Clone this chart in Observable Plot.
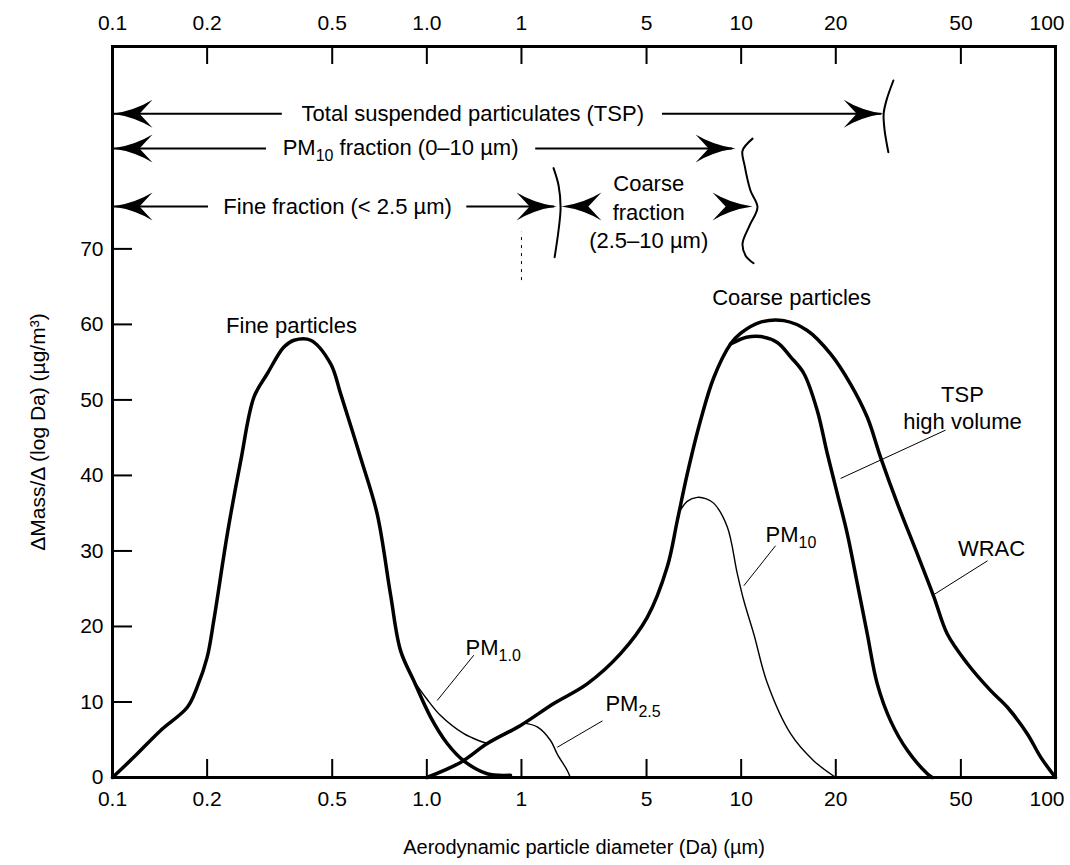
<!DOCTYPE html>
<html><head><meta charset="utf-8">
<script src="https://cdn.jsdelivr.net/npm/d3@7"></script>
<script src="https://cdn.jsdelivr.net/npm/@observablehq/plot@0.6"></script>
<style>body{margin:0;background:#fff;}</style>
</head><body><div id="chart"></div>
<script>
// ---- axes ----
const xTicks = [0.1, 0.2, 0.5, 1, 2, 5, 10, 20, 50, 100];
const xTickLabels = ["0.1", "0.2", "0.5", "1.0", "1", "5", "10", "20", "50", "100"];
const xInnerTicks = [0.2, 0.5, 1, 2, 5, 10, 20, 50];
const yTicks = [0, 10, 20, 30, 40, 50, 60, 70];
const yInnerTicks = [10, 20, 30, 40, 50, 60, 70];
const xTitle = "Aerodynamic particle diameter (Da) (µm)";
const yTitle = "ΔMass/Δ (log Da) (µg/m³)";

// ---- curves ----
const fineX = [0.1, 0.117, 0.142, 0.173, 0.186, 0.200, 0.210, 0.232, 0.256, 0.282, 0.311, 0.351, 0.378, 0.427, 0.494, 0.532, 0.615, 0.695, 0.766, 0.825, 0.909, 1.028, 1.161, 1.311, 1.556, 1.846];
const fineY = [0, 2.7, 6.2, 9.3, 12.0, 15.9, 20.8, 32.3, 42.0, 50.4, 53.5, 57.0, 57.9, 57.9, 54.8, 50.8, 42.4, 34.9, 24.3, 16.8, 12.8, 8.0, 4.5, 2.2, 0.5, 0.3];

const wracX = [1.0, 1.28, 1.557, 1.987, 2.535, 3.237, 4.133, 5.026, 5.82, 6.262, 6.738, 7.428, 8.19, 9.25, 9.95, 11.53, 13.67, 16.23, 19.25, 22.28, 25.19, 27.77, 31.39, 36.34, 41.05, 45.27, 52.4, 62.2, 70.3, 81.3, 89.7, 100];
const wracY = [0, 2.0, 4.5, 6.9, 9.8, 12.4, 16.4, 21.2, 27.9, 34.0, 40.2, 47.3, 53.0, 57.4, 58.8, 60.3, 60.5, 59.2, 56.1, 52.1, 47.7, 42.4, 36.3, 29.6, 23.9, 19.0, 15.1, 11.5, 9.3, 5.8, 2.7, 0];

const tspX = [9.25, 10.4, 11.53, 13.03, 14.36, 15.83, 17.46, 18.79, 20.22, 21.75, 23.41, 25.19, 27.1, 29.88, 33.77, 39.1, 40.55];
const tspY = [57.4, 58.3, 58.4, 57.6, 55.7, 53.5, 48.6, 42.9, 37.6, 32.3, 25.7, 19.0, 12.4, 7.5, 3.6, 0.5, 0];

const pm10X = [6.3, 6.75, 7.25, 7.75, 8.19, 9.03, 9.72, 10.2, 10.97, 12.11, 14.36, 17.03, 20];
const pm10Y = [34.9, 36.6, 37.1, 36.9, 36.3, 33.2, 27.0, 23.4, 19.0, 12.5, 5.8, 2.2, 0];

const pm1X = [0.909, 1.0, 1.106, 1.311, 1.48, 1.557];
const pm1Y = [12.8, 10.4, 8.2, 5.8, 4.8, 4.5];

const pm25X = [2.04, 2.245, 2.475, 2.6, 2.8, 2.86];
const pm25Y = [7.2, 6.7, 4.9, 3.1, 0.9, 0];

// ---- size-fraction arrows at the top ----
const rowText = ["Total suspended particulates (TSP)", "PM_{10} fraction (0–10 µm)", "Fine fraction (< 2.5 µm)"];
const rowTextX = [1.40, 0.825, 0.52];
const rowTextY = [87.9, 83.3, 75.6];

const segX1 = [0.1, 5.62, 0.1, 2.22, 0.1, 1.34];
const segX2 = [0.347, 28.0, 0.309, 9.4, 0.202, 2.55];
const segY = [87.9, 87.9, 83.3, 83.3, 75.6, 75.6];

const headX = [0.1, 28.4, 0.1, 9.6, 0.1, 2.587, 2.68, 10.87];
const headY = [87.9, 87.9, 83.3, 83.3, 75.6, 75.6, 75.6, 75.6];
const headAngle = [180, 0, 180, 0, 180, 0, 180, 0];

const coarseFractionText = ["Coarse\nfraction\n(2.5–10 µm)"];
const coarseFractionX = [5.08];
const coarseFractionY = [75.1];

const braceTspX = [30.5, 29.0, 28.4, 28.6, 29.4];
const braceTspY = [92.3, 89.7, 87.9, 85.7, 82.8];
const bracePm10X = [10.87, 10.10, 10.25, 10.71, 11.27, 10.64, 10.10, 10.33, 10.95];
const bracePm10Y = [84.6, 83.0, 81.1, 77.7, 75.5, 73.1, 70.7, 69.1, 68.1];
const braceFineX = [2.53, 2.625, 2.664, 2.625, 2.55];
const braceFineY = [80.7, 78.4, 75.5, 72.5, 68.9];

const dashX = [2];
const dashY1 = [65.8];
const dashY2 = [72.2];

// ---- curve labels ----
const labelText = ["Fine particles", "Coarse particles", "TSP\nhigh volume", "WRAC"];
const labelX = [0.371, 14.47, 50.6, 62.6];
const labelY = [60.0, 63.7, 49.1, 30.5];

const pmText = ["PM_{1.0}", "PM_{2.5}", "PM_{10}"];
const pmX = [1.328, 3.70, 11.96];
const pmY = [17.2, 9.8, 32.1];

const leadX1 = [1.079, 2.599, 10.2, 20.72, 40.6];
const leadY1 = [10.2, 4.0, 25.4, 39.6, 24.1];
const leadX2 = [1.411, 3.62, 12.87, 44.7, 60.8];
const leadY2 = [16.2, 7.5, 30.7, 46.0, 28.7];

// ---- build tables ----
const pts = (xs, ys) => xs.map((x, i) => ({x, y: ys[i]}));
const fine = pts(fineX, fineY);
const wrac = pts(wracX, wracY);
const tsp = pts(tspX, tspY);
const pm10 = pts(pm10X, pm10Y);
const pm1 = pts(pm1X, pm1Y);
const pm25 = pts(pm25X, pm25Y);
const rows = rowText.map((t, i) => ({t, x: rowTextX[i], y: rowTextY[i]}));
const segs = segY.map((y, i) => ({y, x1: segX1[i], x2: segX2[i]}));
const heads = headX.map((x, i) => ({x, y: headY[i], a: headAngle[i]}));
const cf = coarseFractionText.map((t, i) => ({t, x: coarseFractionX[i], y: coarseFractionY[i]}));
const labels = labelText.map((t, i) => ({t, x: labelX[i], y: labelY[i]}));
const pms = pmText.map((t, i) => ({t, x: pmX[i], y: pmY[i]}));
const leads = leadX1.map((x1, i) => ({x1, y1: leadY1[i], x2: leadX2[i], y2: leadY2[i]}));
const dashes = dashX.map((x, i) => ({x, y1: dashY1[i], y2: dashY2[i]}));
const xLab = xTicks.map((v, i) => ({v, t: xTickLabels[i]}));
const xLabMain = xLab.slice(0, -1);
const xLabLast = xLab.slice(-1);

const arrowHead = {
  draw(ctx) {
    const L = 40, h = 14, n = 13;
    ctx.moveTo(0, 0);
    ctx.quadraticCurveTo(-L * 0.55, -h * 0.22, -L, -h);
    ctx.lineTo(-L + n, 0);
    ctx.lineTo(-L, h);
    ctx.quadraticCurveTo(-L * 0.55, h * 0.22, 0, 0);
    ctx.closePath();
  }
};

const W = 1070, H = 865, mT = 46, mB = 88, mL = 112, mR = 15;
const innerH = H - mT - mB, innerW = W - mL - mR;

const chart = Plot.plot({
  width: W, height: H,
  marginTop: mT, marginBottom: mB, marginLeft: mL, marginRight: mR,
  style: {fontFamily: "'Liberation Sans', Arial, Helvetica, sans-serif", fontSize: "21px", background: "#fff", color: "#000"},
  x: {type: "log", domain: [0.1, 100], axis: null},
  y: {domain: [0, 96.8]},
  marks: [
    // x tick labels, bottom and top
    Plot.text(xLabMain, {x: "v", text: "t", frameAnchor: "bottom", lineAnchor: "top", dy: 14, fontSize: 21}),
    Plot.text(xLabLast, {x: "v", text: "t", frameAnchor: "bottom", lineAnchor: "top", textAnchor: "end", dy: 14, dx: 9, fontSize: 21}),
    Plot.text(xLabMain, {x: "v", text: "t", frameAnchor: "top", lineAnchor: "bottom", dy: -17, fontSize: 21}),
    Plot.text(xLabLast, {x: "v", text: "t", frameAnchor: "top", lineAnchor: "bottom", textAnchor: "end", dy: -17, dx: 9, fontSize: 21}),
    Plot.axisY({anchor: "left", ticks: yTicks, tickSize: 0, tickPadding: 9, label: null, fontSize: 21}),
    Plot.ruleX(xInnerTicks, {x: d => d, insetTop: innerH - 18, strokeWidth: 2}),
    Plot.ruleX(xInnerTicks, {x: d => d, insetBottom: innerH - 18, strokeWidth: 2}),
    Plot.ruleY(yInnerTicks, {y: d => d, insetRight: innerW - 20, strokeWidth: 2}),
    Plot.frame({strokeWidth: 3}),
    Plot.text([xTitle], {text: d => d, frameAnchor: "bottom", dy: 76, fontSize: 20}),
    Plot.text([yTitle], {text: d => d, frameAnchor: "left", textAnchor: "middle", dx: -74, dy: 20, rotate: -90, fontSize: 21}),
    // thin curves
    Plot.line(pm1, {x: "x", y: "y", curve: "catmull-rom", strokeWidth: 1.4}),
    Plot.line(pm25, {x: "x", y: "y", curve: "catmull-rom", strokeWidth: 1.4}),
    Plot.line(pm10, {x: "x", y: "y", curve: "catmull-rom", strokeWidth: 1.4}),
    // thick curves
    Plot.line(fine, {x: "x", y: "y", curve: "catmull-rom", strokeWidth: 3.5}),
    Plot.line(wrac, {x: "x", y: "y", curve: "catmull-rom", strokeWidth: 3.5}),
    Plot.line(tsp, {x: "x", y: "y", curve: "catmull-rom", strokeWidth: 3.5}),
    // leaders
    Plot.link(leads, {x1: "x1", y1: "y1", x2: "x2", y2: "y2", strokeWidth: 1}),
    // fraction arrows
    Plot.ruleY(segs, {y: "y", x1: "x1", x2: "x2", strokeWidth: 2}),
    Plot.dot(heads, {x: "x", y: "y", rotate: "a", symbol: arrowHead, fill: "#000", stroke: "none"}),
    Plot.line(pts(braceTspX, braceTspY), {x: "x", y: "y", curve: "catmull-rom", strokeWidth: 2}),
    Plot.line(pts(bracePm10X, bracePm10Y), {x: "x", y: "y", curve: "catmull-rom", strokeWidth: 2}),
    Plot.line(pts(braceFineX, braceFineY), {x: "x", y: "y", curve: "catmull-rom", strokeWidth: 2}),
    Plot.ruleX(dashes, {x: "x", y1: "y1", y2: "y2", strokeWidth: 1, strokeDasharray: "3,5"}),
    Plot.text(rows, {x: "x", y: "y", text: "t", fontSize: 22}),
    Plot.text(cf, {x: "x", y: "y", text: "t", fontSize: 22, lineHeight: 1.3}),
    Plot.text(labels, {x: "x", y: "y", text: "t", fontSize: 22, lineHeight: 1.25}),
    Plot.text(pms, {x: "x", y: "y", text: "t", fontSize: 22, textAnchor: "start"})
  ]
});

// subscripts: "PM_{10}" -> PM with subscript 10
d3.select(chart).selectAll("text").each(function() {
  const t = this.textContent;
  const m = t.match(/^(.*?)_\{(.*?)\}(.*)$/);
  if (!m) return;
  const el = d3.select(this);
  el.text(null);
  el.append("tspan").text(m[1]);
  el.append("tspan").attr("dy", 6).attr("font-size", "16px").text(m[2]);
  if (m[3]) el.append("tspan").attr("dy", -6).text(m[3]);
});

document.getElementById("chart").appendChild(chart);
</script>
</body></html>
